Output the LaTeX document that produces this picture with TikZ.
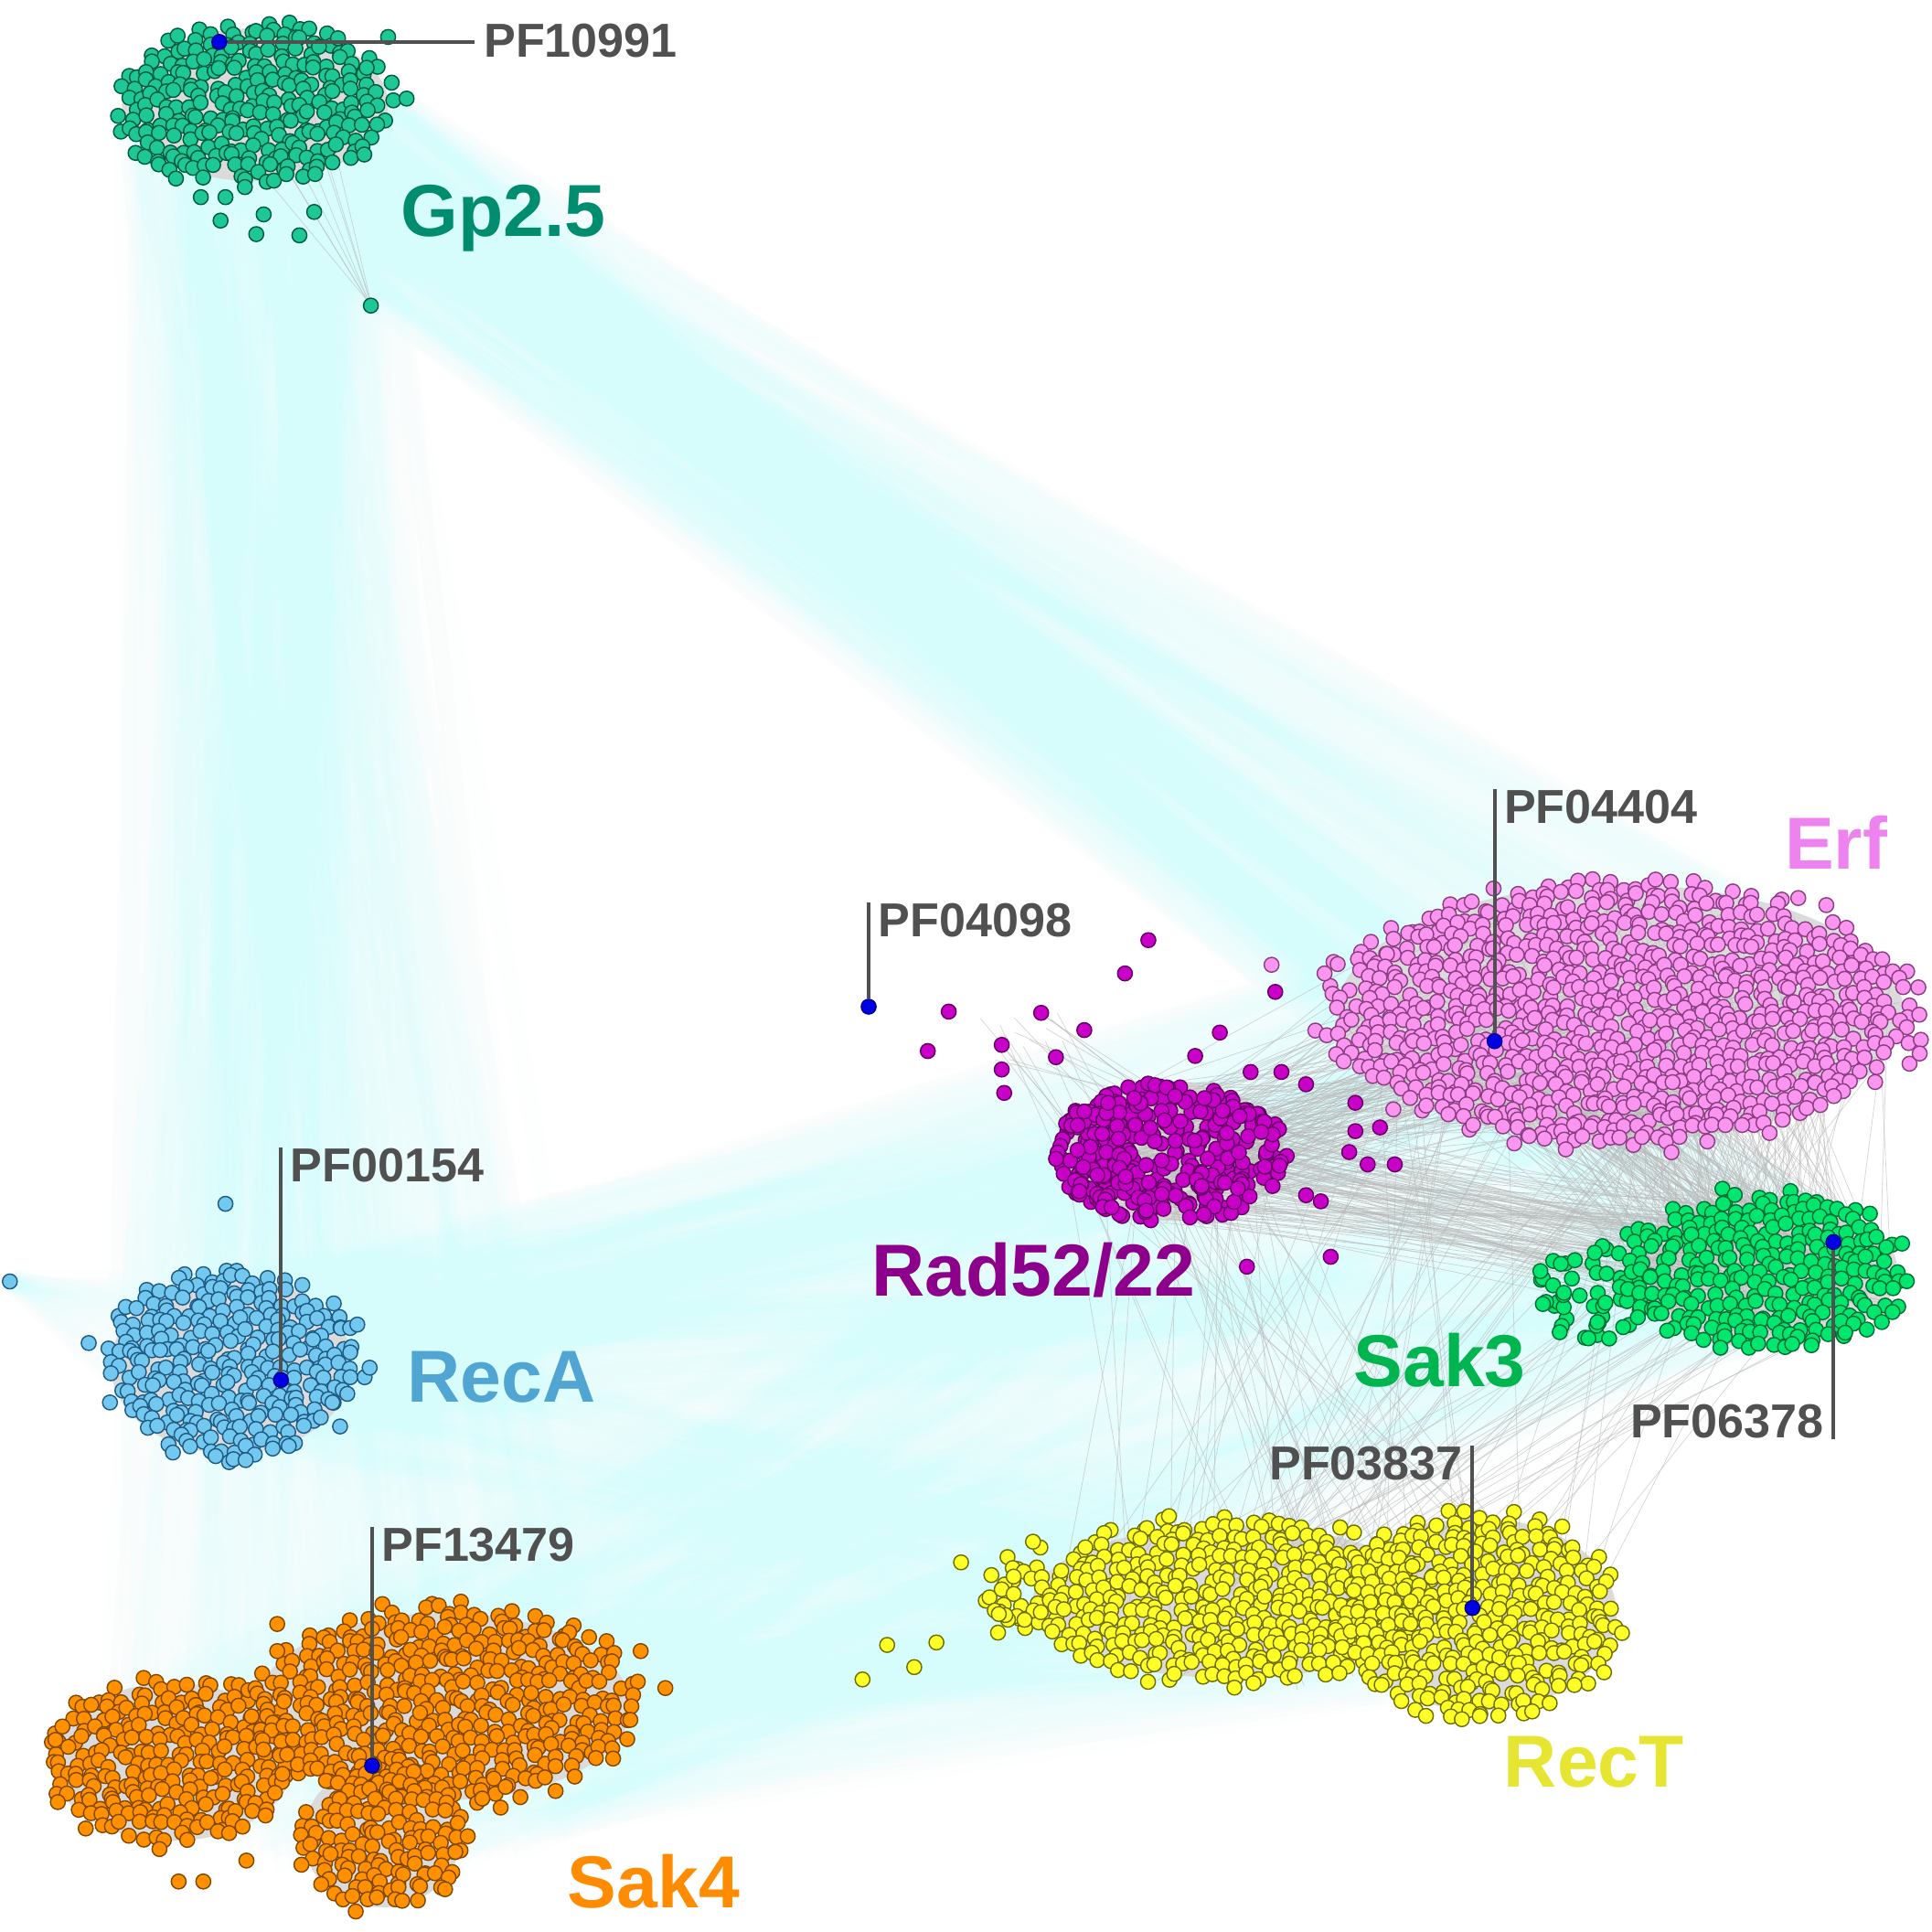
\documentclass[tikz,border=0pt]{standalone}
\usepackage{fontspec}
\setmainfont{Liberation Sans}
\usetikzlibrary{calc}

\definecolor{gpfill}{RGB}{29,200,150}
\definecolor{gpline}{RGB}{0,90,60}
\definecolor{gptext}{RGB}{0,140,110}
\definecolor{recafill}{RGB}{115,200,240}
\definecolor{recaline}{RGB}{30,90,130}
\definecolor{recatext}{RGB}{80,165,210}
\definecolor{sakfourfill}{RGB}{255,145,0}
\definecolor{sakfourline}{RGB}{130,70,0}
\definecolor{sakfourtext}{RGB}{255,140,0}
\definecolor{radfill}{RGB}{200,0,200}
\definecolor{radline}{RGB}{100,0,100}
\definecolor{radtext}{RGB}{140,0,140}
\definecolor{erffill}{RGB}{250,150,240}
\definecolor{erfline}{RGB}{140,60,130}
\definecolor{erftext}{RGB}{238,130,238}
\definecolor{sakthreefill}{RGB}{0,230,110}
\definecolor{sakthreeline}{RGB}{0,110,50}
\definecolor{sakthreetext}{RGB}{0,180,80}
\definecolor{rectfill}{RGB}{255,255,40}
\definecolor{rectline}{RGB}{110,110,0}
\definecolor{recttext}{RGB}{230,230,50}
\definecolor{hubblue}{RGB}{0,0,230}
\definecolor{pfgray}{RGB}{80,80,80}
\definecolor{fancyan}{RGB}{215,252,252}

% random dots inside an ellipse: cx, cy, rx, ry, count, style
\newcommand{\blob}[6]{%
  \foreach \i in {1,...,#5}{
    \pgfmathsetmacro\ang{360*rnd}
    \pgfmathsetmacro\rr{sqrt(rnd)}
    \path[#6] ({#1+#3*\rr*cos(\ang)},{#2+#4*\rr*sin(\ang)}) circle[radius=0.06cm];
  }}

% jittered packing of dots filling an ellipse: cx, cy, rx, ry, style
\newcommand{\patch}[5]{%
  \pgfmathtruncatemacro\nx{#3/10+1}
  \pgfmathtruncatemacro\ny{#4/8.66+1}
  \foreach \j in {-\ny,...,\ny}{
    \foreach \i in {-\nx,...,\nx}{
      \pgfmathsetmacro\px{\i*10+5*mod(\j,2)+9*(rnd-0.5)}
      \pgfmathsetmacro\py{\j*8.66+9*(rnd-0.5)}
      \pgfmathsetmacro\inside{(\px/#3)*(\px/#3)+(\py/#4)*(\py/#4) < 0.8+0.3*rnd}
      \ifdim\inside pt>0.5pt
        \path[#5] ({#1+\px},{#2+\py}) circle[radius=0.06cm];
      \fi
    }}}

% random edges between two ellipses
\newcommand{\links}[9]{%
  \foreach \i in {1,...,#9}{
    \pgfmathsetmacro\angA{360*rnd}
    \pgfmathsetmacro\rA{sqrt(rnd)}
    \pgfmathsetmacro\angB{360*rnd}
    \pgfmathsetmacro\rB{sqrt(rnd)}
    \draw[link] ({#1+#3*\rA*cos(\angA)},{#2+#4*\rA*sin(\angA)}) -- ({#5+#7*\rB*cos(\angB)},{#6+#8*\rB*sin(\angB)});
  }}

\begin{document}
\begin{tikzpicture}[x=0.01cm, y=-0.01cm,
  dot/.style={line width=0.3pt},
  gpdot/.style={dot, fill=gpfill, draw=gpline},
  recadot/.style={dot, fill=recafill, draw=recaline},
  sakfourdot/.style={dot, fill=sakfourfill, draw=sakfourline},
  raddot/.style={dot, fill=radfill, draw=radline},
  erfdot/.style={dot, fill=erffill, draw=erfline},
  sakthreedot/.style={dot, fill=sakthreefill, draw=sakthreeline},
  rectdot/.style={dot, fill=rectfill, draw=rectline},
  halo/.style={fill=gray!28},
  hub/.style={circle, fill=hubblue, draw=hubblue!60!black, line width=0.3pt, inner sep=0pt, minimum size=0.12cm},
  pflab/.style={anchor=base west, inner xsep=2pt, inner ysep=0pt, text=pfgray, font=\fontsize{11}{13}\selectfont\bfseries},
  pflabr/.style={pflab, anchor=base east},
  famlab/.style={anchor=base west, inner sep=0pt, font=\fontsize{17}{20}\selectfont\bfseries},
  callout/.style={draw=pfgray, line width=0.8pt}]
\pgfmathsetseed{2113}
\fill[white] (0,0) rectangle (1568,1568);
\useasboundingbox (0,0) rectangle (1568,1568);

% cyan fans of weak similarity
\begin{scope}[link/.style={draw=fancyan, line width=4pt, opacity=0.035}]
  \links{207}{85}{110}{60}{300}{1420}{220}{100}{250}
  \links{207}{85}{110}{60}{188}{1108}{100}{75}{150}
  \links{207}{85}{110}{60}{1315}{822}{230}{100}{250}
  \links{207}{85}{110}{60}{1432}{1032}{110}{60}{150}
  \links{188}{1108}{100}{75}{1315}{822}{230}{100}{150}
  \links{188}{1108}{100}{75}{1432}{1032}{110}{60}{100}
  \links{188}{1108}{100}{75}{1075}{1308}{230}{70}{100}
  \links{188}{1108}{100}{75}{950}{935}{95}{58}{80}
  \links{300}{1420}{220}{100}{1075}{1308}{230}{70}{200}
  \links{300}{1420}{220}{100}{1432}{1032}{110}{60}{150}
  \links{300}{1420}{220}{100}{1315}{822}{230}{100}{150}
  \links{300}{1420}{220}{100}{950}{935}{95}{58}{80}
  \links{8}{1040}{5}{5}{188}{1108}{100}{75}{30}
\end{scope}

% gray halos of dense edges
\fill[halo] (207,85) ellipse[x radius=108, y radius=62];
\fill[halo] (188,1108) ellipse[x radius=98, y radius=72];
\fill[halo] (140,1430) ellipse[x radius=98, y radius=64];
\fill[halo] (360,1385) ellipse[x radius=152, y radius=76];
\fill[halo] (310,1490) ellipse[x radius=64, y radius=58];
\fill[halo] (950,935) ellipse[x radius=92, y radius=56];
\fill[halo] (1315,822) ellipse[x radius=230, y radius=104];
\fill[halo] (1432,1032) ellipse[x radius=108, y radius=62];
\fill[halo] (1000,1300) ellipse[x radius=162, y radius=62];
\fill[halo] (1200,1310) ellipse[x radius=112, y radius=78];

% gray edges between the right clusters
\begin{scope}[link/.style={draw=gray!55, line width=0.15pt, opacity=0.6}]
  \links{950}{935}{95}{58}{1315}{822}{230}{100}{150}
  \links{1315}{822}{230}{100}{1432}{1032}{110}{60}{250}
  \links{950}{935}{95}{58}{1432}{1032}{110}{60}{120}
  \links{950}{935}{95}{58}{1075}{1308}{230}{70}{40}
  \links{1315}{822}{230}{100}{1075}{1308}{230}{70}{40}
  \links{1432}{1032}{110}{60}{1075}{1308}{230}{70}{30}
  \links{207}{85}{60}{20}{301}{248}{1}{1}{8}
  \links{830}{840}{40}{30}{950}{935}{95}{58}{20}
\end{scope}

% Gp2.5
\patch{207}{85}{115}{70}{gpdot}
\foreach \x/\y in {163/160,183/160,179/179,214/174,255/172,208/190,243/191,301/248,330/80,315/30}
  \path[gpdot] (\x,\y) circle[radius=0.06cm];

% RecA
\patch{188}{1108}{106}{80}{recadot}
\foreach \x/\y in {183/977,8/1040,72/1090,300/1110,290/1075}
  \path[recadot] (\x,\y) circle[radius=0.06cm];

% Sak4
\patch{140}{1430}{105}{70}{sakfourdot}
\patch{360}{1385}{162}{84}{sakfourdot}
\patch{310}{1490}{70}{64}{sakfourdot}
\foreach \x/\y in {145/1527,165/1527,200/1510,540/1370,225/1340,225/1318,520/1340,45/1412}
  \path[sakfourdot] (\x,\y) circle[radius=0.06cm];

% Rad52/22
\blob{950}{935}{95}{58}{340}{raddot}
\foreach \x/\y in {770/821,753/853,845/822,880/836,813/848,813/868,857/858,815/887,932/763,913/790,1035/805,990/838,1080/1020,1012/1028,1120/915,1132/945,1100/918,1095/935,1100/895,1072/975,1060/880,1040/870,1015/870,1110/945,1060/970,970/857}
  \path[raddot] (\x,\y) circle[radius=0.06cm];

% Erf
\patch{1315}{822}{242}{112}{erfdot}
\foreach \x/\y in {1032/783,1558/855,1075/790}
  \path[erfdot] (\x,\y) circle[radius=0.06cm];

% Sak3
\blob{1290}{1050}{45}{40}{50}{sakthreedot}
\patch{1432}{1032}{118}{70}{sakthreedot}

% RecT
\blob{830}{1290}{35}{40}{30}{rectdot}
\patch{1000}{1300}{170}{70}{rectdot}
\patch{1200}{1310}{120}{85}{rectdot}
\foreach \x/\y in {700/1363,720/1335,760/1333,742/1353,780/1268,810/1325}
  \path[rectdot] (\x,\y) circle[radius=0.06cm];

% Pfam seeds and callouts
\node[hub] (gpHub) at (178,34) {};
\node[pflab] (gpPf) at (385,46) {PF10991};
\draw[callout] (gpHub) -- (gpHub -| gpPf.west);

\node[hub] (recaHub) at (228,1120) {};
\node[pflab] (recaPf) at (228,959) {PF00154};
\draw[callout] (recaHub) -- (recaHub |- recaPf.north);

\node[hub] (radHub) at (705,817) {};
\node[pflab] (radPf) at (705,760) {PF04098};
\draw[callout] (radHub) -- (radHub |- radPf.north);

\node[hub] (erfHub) at (1213,845) {};
\node[pflab] (erfPf) at (1213,668) {PF04404};
\draw[callout] (erfHub) -- (erfHub |- erfPf.north);

\node[hub] (sakfourHub) at (302,1433) {};
\node[pflab] (sakfourPf) at (302,1267) {PF13479};
\draw[callout] (sakfourHub) -- (sakfourHub |- sakfourPf.north);

\node[hub] (sakthreeHub) at (1488,1008) {};
\node[pflabr] (sakthreePf) at (1488,1167) {PF06378};
\draw[callout] (sakthreeHub) -- (sakthreeHub |- sakthreePf.south);

\node[hub] (rectHub) at (1195,1305) {};
\node[pflabr] (rectPf) at (1195,1201) {PF03837};
\draw[callout] (rectHub) -- (rectHub |- rectPf.north);

% family names
\node[famlab, text=gptext] (gpName) at (325,192) {Gp2.5};
\node[famlab, text=recatext] (recaName) at (330,1138) {RecA};
\node[famlab, text=radtext] (radName) at (707,1052) {Rad52/22};
\node[famlab, text=erftext] (erfName) at (1448,705) {Erf};
\node[famlab, text=sakthreetext] (sakthreeName) at (1098,1125) {Sak3};
\node[famlab, text=recttext] (rectName) at (1220,1450) {RecT};
\node[famlab, text=sakfourtext] (sakfourName) at (460,1548) {Sak4};
\end{tikzpicture}
\end{document}
